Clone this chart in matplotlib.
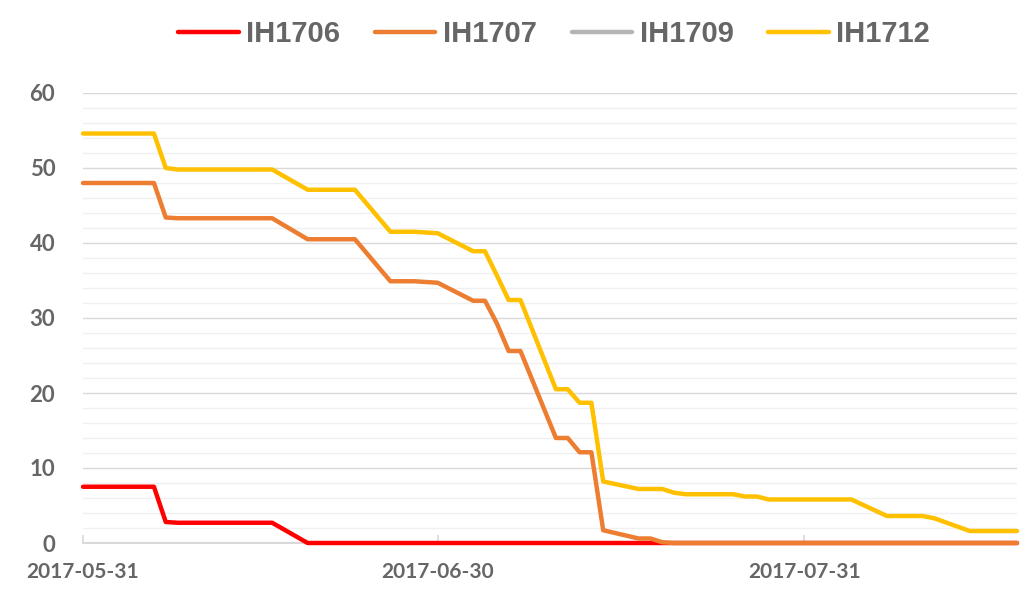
import matplotlib
matplotlib.use("Agg")
import matplotlib.pyplot as plt
import matplotlib.dates as mdates
from matplotlib.ticker import MultipleLocator
import pandas as pd

# trading days 2017-05-31 .. 2017-08-18
dates = pd.bdate_range("2017-05-31", "2017-08-18")

ih1706 = [7.5, 7.5, 7.5, 7.5, 7.5, 2.8, 2.7, 2.7, 2.7, 2.7, 2.7, 2.7, 2.7,
          0, 0, 0, 0, 0, 0, 0, 0, 0, 0, 0, 0, 0, 0, 0, 0, 0, 0, 0, 0,
          0, 0, 0, 0, 0, 0, 0, 0, 0, 0, 0, 0, 0, 0, 0, 0, 0, 0, 0, 0,
          0, 0, 0, 0, 0]
ih1707 = [48.0, 48.0, 48.0, 48.0, 48.0, 43.4, 43.3, 43.3, 43.3, 43.3, 43.3, 43.3, 43.3,
          40.5, 40.5, 40.5, 40.5, 40.5, 34.9, 34.9, 34.9, 34.8, 34.7,
          32.3, 32.3, 29.3, 25.6, 25.6, 14.0, 14.0, 12.1, 12.1, 1.7,
          0.6, 0.6, 0.1, 0, 0, 0, 0, 0, 0, 0, 0, 0, 0, 0, 0, 0, 0, 0, 0, 0,
          0, 0, 0, 0, 0]
ih1709 = []  # no data, legend only
ih1712 = [54.6, 54.6, 54.6, 54.6, 54.6, 50.0, 49.8, 49.8, 49.8, 49.8, 49.8, 49.8, 49.8,
          47.1, 47.1, 47.1, 47.1, 47.1, 41.5, 41.5, 41.5, 41.4, 41.3,
          38.9, 38.9, 35.7, 32.4, 32.4, 20.5, 20.5, 18.7, 18.7, 8.2,
          7.2, 7.2, 7.2, 6.7, 6.5, 6.5, 6.5, 6.2, 6.2, 5.8, 5.8, 5.8, 5.8, 5.8, 5.8,
          3.6, 3.6, 3.6, 3.6, 3.3, 1.6, 1.6, 1.6, 1.6, 1.6]

series = [("IH1706", ih1706, "#ff0000"),
          ("IH1707", ih1707, "#ed7d31"),
          ("IH1709", ih1709, "#b4b4b4"),
          ("IH1712", ih1712, "#ffc000")]

tick_dates = pd.to_datetime(["2017-05-31", "2017-06-30", "2017-07-31"])
text_gray = "#666666"

fig = plt.figure(figsize=(10.29, 5.97), dpi=100)
ax = fig.add_axes([83 / 1029, 54 / 597, 934 / 1029, 450 / 597])

for name, vals, color in series:
    ax.plot(dates[:len(vals)], vals, color=color, lw=3.2, label=name, zorder=3,
            solid_joinstyle="round", solid_capstyle="round", clip_on=False)

ax.set_xlim(dates[0], dates[-1])
ax.set_ylim(0, 60)
ax.yaxis.set_major_locator(MultipleLocator(10))
ax.yaxis.set_minor_locator(MultipleLocator(2))
ax.grid(which="major", axis="y", color="#d9d9d9", lw=1)
ax.grid(which="minor", axis="y", color="#f0f0f0", lw=1)
ax.set_axisbelow(True)

ax.set_xticks(tick_dates)
ax.xaxis.set_major_formatter(mdates.DateFormatter("%Y-%m-%d"))

for s in ["top", "right", "left"]:
    ax.spines[s].set_visible(False)
ax.spines["bottom"].set_color("#d9d9d9")
ax.spines["bottom"].set_linewidth(1.5)
ax.spines["bottom"].set_zorder(1)

ax.tick_params(axis="x", direction="in", length=6, color="#d9d9d9", width=1.2,
               pad=14, labelsize=15, labelcolor=text_gray)
ax.tick_params(axis="y", which="both", length=0, pad=20, labelsize=16,
               labelcolor=text_gray)
ax.tick_params(axis="y", which="minor", labelleft=False)
for lab in ax.get_xticklabels() + ax.get_yticklabels():
    lab.set_fontfamily(["Lato", "DejaVu Sans"])
    lab.set_fontweight("bold")

leg = fig.legend(loc="center", bbox_to_anchor=(554 / 1029, 1 - 34 / 597), ncol=4,
                 frameon=False, handlelength=2.08, handletextpad=0.25,
                 columnspacing=1.2,
                 prop={"family": ["Liberation Sans", "DejaVu Sans"],
                       "weight": "bold", "size": 21})
for t in leg.get_texts():
    t.set_color(text_gray)

fig.savefig("out.png", dpi=100)
